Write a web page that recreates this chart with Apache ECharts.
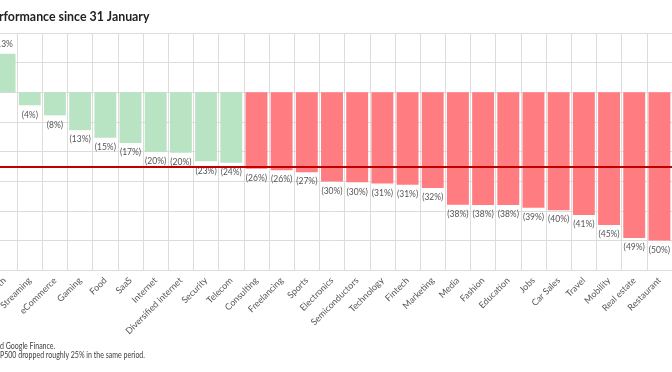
<!DOCTYPE html>
<html>
<head>
<meta charset="utf-8">
<script src="https://cdn.jsdelivr.net/npm/echarts@6/dist/echarts.min.js"></script>
<style>
html,body{margin:0;padding:0;background:#fff;}
#chart{width:672px;height:372px;}
</style>
</head>
<body>
<div id="chart"></div>
<script>
var categories = ["Health","Streaming","eCommerce","Gaming","Food","SaaS","Internet","Diversified internet","Security","Telecom","Consulting","Freelancing","Sports","Electronics","Semiconductors","Technology","Fintech","Marketing","Media","Fashion","Education","Jobs","Car Sales","Travel","Mobility","Real estate","Restaurant"];
var performance = [13, -4.4, -7.8, -12.8, -15.4, -17.1, -20.2, -20.4, -23.3, -23.8, -25.8, -26.3, -27, -30.1, -30.4, -30.8, -31.2, -32.3, -38, -38.1, -38.1, -39, -39.8, -41.4, -44.8, -49.2, -50];
var sp500Drop = [-25];
var yTicks = {min: -60, max: 20, interval: 10};
var titleText = "Performance since 31 January";
var footnotes = ["d Google Finance.", "P500 dropped roughly 25% in the same period."];

var FONT = "Lato, 'Open Sans', sans-serif";
var GREEN = "#b9e4c4";
var RED = "#ff7c80";

var chart = echarts.init(document.getElementById('chart'), null, {renderer: 'canvas'});

var barData = performance.map(function (v) {
  return {
    value: v,
    itemStyle: {color: v >= sp500Drop[0] ? GREEN : RED},
    label: {position: v >= 0 ? 'top' : 'bottom'}
  };
});

chart.setOption({
  animation: false,
  backgroundColor: '#ffffff',
  grid: {left: -8, right: 0, top: 33, bottom: 102, containLabel: false, outerBoundsMode: 'none'},
  xAxis: {
    type: 'category',
    data: categories,
    axisLine: {show: false},
    axisTick: {show: false},
    splitLine: {show: true, interval: 0, lineStyle: {color: '#dcdcdc', width: 1}},
    axisLabel: {
      interval: 0, rotate: 45, margin: 9,
      color: '#555555', fontSize: 9, fontFamily: FONT
    }
  },
  yAxis: {
    type: 'value',
    min: yTicks.min, max: yTicks.max, interval: yTicks.interval,
    axisLine: {show: false},
    axisTick: {show: false},
    axisLabel: {show: false},
    splitLine: {show: true, lineStyle: {color: '#dcdcdc', width: 1}}
  },
  series: [{
    type: 'bar',
    data: barData,
    barCategoryGap: '13%',
    label: {
      show: true,
      distance: 5,
      color: '#555555',
      fontSize: 8.5,
      fontFamily: FONT,
      formatter: function (p) {
        var r = Math.round(Math.abs(p.value));
        return p.value < 0 ? '(' + r + '%)' : r + '%';
      }
    },
    markLine: {
      silent: true,
      symbol: 'none',
      label: {show: false},
      lineStyle: {color: '#c00000', width: 2, type: 'solid'},
      data: [{yAxis: sp500Drop[0]}]
    }
  }],
  graphic: [
    {type: 'text', x: -15, y: 10, scaleX: 0.95, style: {text: titleText, font: 'bold 13px ' + FONT, fill: '#222'}},
    {type: 'text', x: 0, y: 342, scaleX: 0.78, style: {text: footnotes[0], font: '9px ' + FONT, fill: '#404040'}},
    {type: 'text', x: 0, y: 351, scaleX: 0.78, style: {text: footnotes[1], font: '9px ' + FONT, fill: '#404040'}}
  ]
});
</script>
</body>
</html>
